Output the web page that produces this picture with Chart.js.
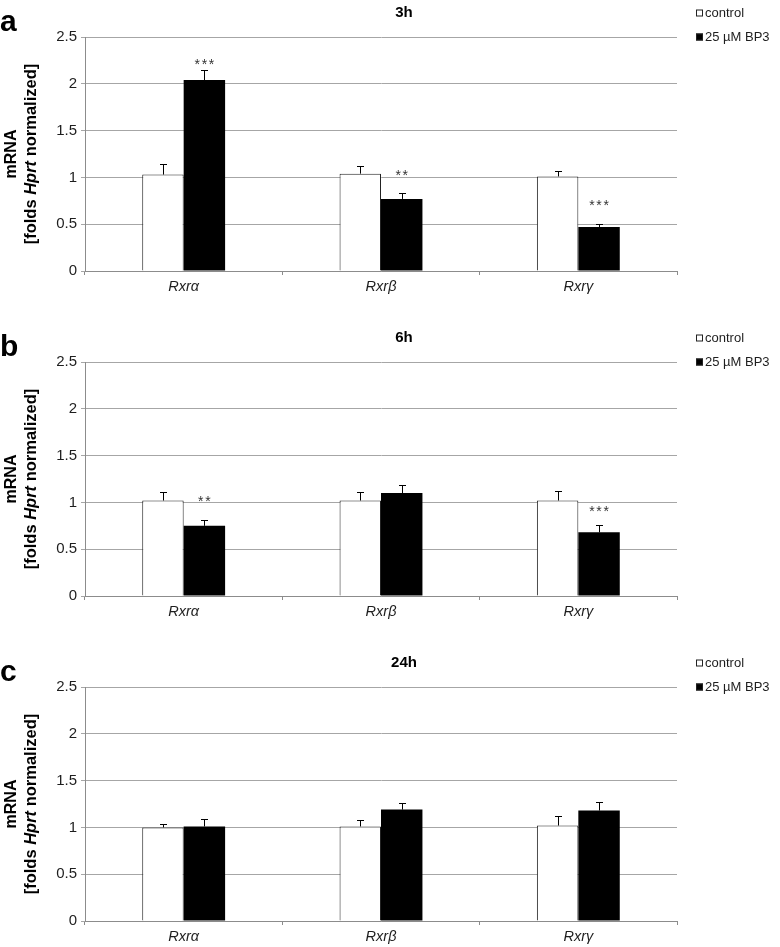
<!DOCTYPE html>
<html>
<head>
<meta charset="utf-8">
<title>Rxr mRNA</title>
<script src="https://cdn.jsdelivr.net/npm/chart.js@4.4.0/dist/chart.umd.min.js"></script>
<style>
  html, body { margin: 0; padding: 0; background: #fff; overflow: hidden; }
  canvas.panel { position: absolute; left: 0; }
</style>
</head>
<body>
<canvas id="chartA" class="panel" width="780" height="297" style="top:0px"></canvas>
<canvas id="chartB" class="panel" width="780" height="297" style="top:325px"></canvas>
<canvas id="chartC" class="panel" width="780" height="297" style="top:650px"></canvas>
<script>
// categories and axis
const categories = ['Rxrα', 'Rxrβ', 'Rxrγ'];
const yTicks = [0, 0.5, 1, 1.5, 2, 2.5];
const seriesNames = ['control', '25 µM BP3'];

// 3h
const control3h = [1.03, 1.04, 1.01];
const controlErr3h = [0.11, 0.08, 0.06];
const bp3_3h = [2.04, 0.77, 0.47];
const bp3Err3h = [0.11, 0.06, 0.03];
const stars3h = ['***', '**', '***'];
const starY3h = [2.24, 1.06, 0.74];

// 6h
const control6h = [1.02, 1.02, 1.02];
const controlErr6h = [0.09, 0.09, 0.10];
const bp3_6h = [0.75, 1.10, 0.68];
const bp3Err6h = [0.06, 0.09, 0.08];
const stars6h = ['**', '', '***'];
const starY6h = [1.05, null, 0.94];

// 24h
const control24h = [1.00, 1.01, 1.02];
const controlErr24h = [0.04, 0.07, 0.10];
const bp3_24h = [1.01, 1.19, 1.18];
const bp3Err24h = [0.08, 0.07, 0.09];
const stars24h = ['', '', ''];
const starY24h = [null, null, null];

const TEXT = '#1e1e1e';
const SANS = '"Liberation Sans", Arial, sans-serif';

// error bars, stars, letter, title, y label and legend
const panelDecor = {
  id: 'panelDecor',
  afterDatasetsDraw(chart, args, opts) {
    const ctx = chart.ctx;
    const ys = chart.scales.y;
    ctx.save();
    ctx.strokeStyle = '#000';
    ctx.lineWidth = 1;
    chart.data.datasets.forEach((ds, i) => {
      chart.getDatasetMeta(i).data.forEach((bar, j) => {
        const x = Math.round(bar.x) + 0.5;
        const top = Math.round(ys.getPixelForValue(ds.data[j] + ds.errors[j])) + 0.5;
        ctx.beginPath();
        ctx.moveTo(x, bar.y);
        ctx.lineTo(x, top);
        ctx.moveTo(x - 3.5, top);
        ctx.lineTo(x + 3.5, top);
        ctx.stroke();
      });
    });
    // significance stars above the BP3 bars
    const bp3Bars = chart.getDatasetMeta(1).data;
    ctx.fillStyle = '#333';
    ctx.font = '14px ' + SANS;
    ctx.textAlign = 'center';
    ctx.textBaseline = 'alphabetic';
    opts.stars.forEach((s, j) => {
      if (!s) return;
      const cx = bp3Bars[j].x;
      const py = ys.getPixelForValue(opts.starY[j]) + 8;
      const gap = 7.2;
      for (let k = 0; k < s.length; k++) {
        ctx.fillText('*', cx + (k - (s.length - 1) / 2) * gap, py);
      }
    });
    ctx.restore();
  },
  afterDraw(chart, args, opts) {
    const ctx = chart.ctx;
    const area = chart.chartArea;
    ctx.save();
    ctx.fillStyle = '#000';

    // panel letter
    ctx.font = 'bold 30px ' + SANS;
    ctx.textAlign = 'left';
    ctx.textBaseline = 'alphabetic';
    ctx.fillText(opts.letter, 0, area.top - 6);

    // title
    ctx.font = 'bold 15px ' + SANS;
    ctx.textAlign = 'center';
    ctx.textBaseline = 'middle';
    ctx.fillText(opts.title, 404, area.top - 24.5);

    // y axis title, two lines
    const midY = (area.top + area.bottom) / 2;
    ctx.save();
    ctx.translate(12, midY);
    ctx.rotate(-Math.PI / 2);
    ctx.font = 'bold 16px ' + SANS;
    ctx.fillText('mRNA', 0, 0);
    ctx.restore();

    const parts = [
      ['[folds ', 'bold 16.5px ' + SANS],
      ['Hprt', 'italic bold 16.5px ' + SANS],
      [' normalized]', 'bold 16.5px ' + SANS]
    ];
    ctx.save();
    ctx.translate(31, midY);
    ctx.rotate(-Math.PI / 2);
    ctx.textAlign = 'left';
    let total = 0;
    parts.forEach(p => { ctx.font = p[1]; total += ctx.measureText(p[0]).width; });
    let px = -total / 2;
    parts.forEach(p => { ctx.font = p[1]; ctx.fillText(p[0], px, 0); px += ctx.measureText(p[0]).width; });
    ctx.restore();

    // legend
    ctx.font = '13px ' + SANS;
    ctx.textAlign = 'left';
    ctx.textBaseline = 'middle';
    chart.data.datasets.forEach((ds, i) => {
      const cy = area.top - 24 + i * 24;
      ctx.fillStyle = ds.backgroundColor;
      ctx.fillRect(696, cy - 3.5, 7, 7);
      ctx.strokeStyle = '#222';
      ctx.lineWidth = 1;
      ctx.strokeRect(696.5, cy - 3, 6, 6);
      ctx.fillStyle = TEXT;
      ctx.fillText(ds.label, 705, cy);
    });
    ctx.restore();
  }
};

function makePanel(id, letter, title, ctrl, ctrlErr, bp3, bp3Err, stars, starY) {
  const ctx = document.getElementById(id).getContext('2d');
  return new Chart(ctx, {
    type: 'bar',
    data: {
      labels: categories,
      datasets: [
        {
          label: seriesNames[0],
          data: ctrl,
          errors: ctrlErr,
          backgroundColor: '#ffffff',
          borderColor: '#222222',
          borderWidth: 1,
          borderSkipped: 'bottom',
          categoryPercentage: 0.42,
          barPercentage: 1.0
        },
        {
          label: seriesNames[1],
          data: bp3,
          errors: bp3Err,
          backgroundColor: '#000000',
          borderColor: '#000000',
          borderWidth: 0,
          categoryPercentage: 0.42,
          barPercentage: 1.0
        }
      ]
    },
    options: {
      responsive: false,
      animation: false,
      layout: { padding: { top: 37, right: 103, left: 0, bottom: 0 } },
      plugins: {
        legend: { display: false },
        tooltip: { enabled: false },
        panelDecor: { letter: letter, title: title, stars: stars, starY: starY }
      },
      scales: {
        x: {
          afterFit: s => { s.height = 26; },
          grid: {
            display: true,
            drawOnChartArea: false,
            drawTicks: true,
            tickLength: 4,
            color: '#8c8c8c'
          },
          border: { color: '#8c8c8c', width: 1 },
          ticks: {
            color: TEXT,
            padding: 3,
            font: { family: SANS, size: 14.5, style: 'italic' }
          }
        },
        y: {
          min: 0,
          max: 2.5,
          afterFit: s => { s.width = 85; },
          afterBuildTicks: s => { s.ticks = yTicks.map(v => ({ value: v })); },
          grid: { color: '#a6a6a6', tickLength: 4, drawTicks: true },
          border: { color: '#8c8c8c', width: 1 },
          ticks: {
            color: TEXT,
            padding: 4,
            font: { family: SANS, size: 15 },
            callback: v => String(v)
          }
        }
      }
    },
    plugins: [panelDecor]
  });
}

makePanel('chartA', 'a', '3h', control3h, controlErr3h, bp3_3h, bp3Err3h, stars3h, starY3h);
makePanel('chartB', 'b', '6h', control6h, controlErr6h, bp3_6h, bp3Err6h, stars6h, starY6h);
makePanel('chartC', 'c', '24h', control24h, controlErr24h, bp3_24h, bp3Err24h, stars24h, starY24h);
</script>
</body>
</html>
